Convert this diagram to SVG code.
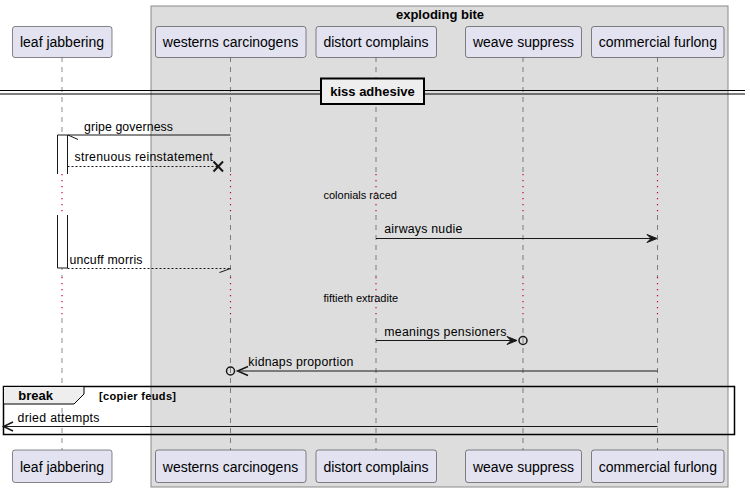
<svg xmlns="http://www.w3.org/2000/svg" width="750" height="492" viewBox="0 0 750 492">
<style>
.p{fill:#E2E2F0;stroke:#181818;stroke-width:0.5}
.pt{font-family:"Liberation Sans",Arial,sans-serif;font-size:14px;fill:#000;text-anchor:middle}
.ll{stroke:#181818;stroke-width:0.5;stroke-dasharray:5,5}
.dl{stroke:#C8003C;stroke-width:1.2;stroke-dasharray:1.2,4.8}
.m{font-family:"Liberation Sans",Arial,sans-serif;font-size:12.3px;fill:#000}
.d{font-family:"Liberation Sans",Arial,sans-serif;font-size:11px;fill:#000}
.b{font-family:"Liberation Sans",Arial,sans-serif;font-weight:bold;fill:#000}
.ln{stroke:#181818;stroke-width:1;fill:none}
.dash{stroke:#181818;stroke-width:1;fill:none;stroke-dasharray:2,2}
</style>
<rect x="151" y="6" width="577" height="481" fill="#DDDDDD" stroke="#8A8A8A" stroke-width="1"/>
<text class="b" x="440" y="19" font-size="13" text-anchor="middle">exploding bite</text>
<g id="lifelines">
<line class="ll" x1="62" y1="57" x2="62" y2="174"/><line class="dl" x1="62" y1="174" x2="62" y2="215"/><line class="ll" x1="62" y1="215" x2="62" y2="277"/><line class="dl" x1="62" y1="277" x2="62" y2="318"/><line class="ll" x1="62" y1="318" x2="62" y2="450"/>
<line class="ll" x1="230.5" y1="57" x2="230.5" y2="174"/><line class="dl" x1="230.5" y1="174" x2="230.5" y2="215"/><line class="ll" x1="230.5" y1="215" x2="230.5" y2="277"/><line class="dl" x1="230.5" y1="277" x2="230.5" y2="318"/><line class="ll" x1="230.5" y1="318" x2="230.5" y2="450"/>
<line class="ll" x1="376" y1="57" x2="376" y2="174"/><line class="dl" x1="376" y1="174" x2="376" y2="215"/><line class="ll" x1="376" y1="215" x2="376" y2="277"/><line class="dl" x1="376" y1="277" x2="376" y2="318"/><line class="ll" x1="376" y1="318" x2="376" y2="450"/>
<line class="ll" x1="523" y1="57" x2="523" y2="174"/><line class="dl" x1="523" y1="174" x2="523" y2="215"/><line class="ll" x1="523" y1="215" x2="523" y2="277"/><line class="dl" x1="523" y1="277" x2="523" y2="318"/><line class="ll" x1="523" y1="318" x2="523" y2="450"/>
<line class="ll" x1="657.5" y1="57" x2="657.5" y2="174"/><line class="dl" x1="657.5" y1="174" x2="657.5" y2="215"/><line class="ll" x1="657.5" y1="215" x2="657.5" y2="277"/><line class="dl" x1="657.5" y1="277" x2="657.5" y2="318"/><line class="ll" x1="657.5" y1="318" x2="657.5" y2="450"/>
</g>
<g id="leaf-jabbering">
<rect class="p" x="12.5" y="26.5" width="99.5" height="31" rx="2.5"/><text class="pt" x="62" y="47">leaf jabbering</text>
<rect class="p" x="12.5" y="450" width="99.5" height="32.5" rx="2.5"/><text class="pt" x="62" y="472">leaf jabbering</text>
</g>
<g id="westerns-carcinogens">
<rect class="p" x="155.5" y="26.5" width="150.5" height="31" rx="2.5"/><text class="pt" x="230.5" y="47">westerns carcinogens</text>
<rect class="p" x="155.5" y="450" width="150.5" height="32.5" rx="2.5"/><text class="pt" x="230.5" y="472">westerns carcinogens</text>
</g>
<g id="distort-complains">
<rect class="p" x="316" y="26.5" width="120.5" height="31" rx="2.5"/><text class="pt" x="376" y="47">distort complains</text>
<rect class="p" x="316" y="450" width="120.5" height="32.5" rx="2.5"/><text class="pt" x="376" y="472">distort complains</text>
</g>
<g id="weave-suppress">
<rect class="p" x="465.5" y="26.5" width="116" height="31" rx="2.5"/><text class="pt" x="523.5" y="47">weave suppress</text>
<rect class="p" x="465.5" y="450" width="116" height="32.5" rx="2.5"/><text class="pt" x="523.5" y="472">weave suppress</text>
</g>
<g id="commercial-furlong">
<rect class="p" x="591.5" y="26.5" width="132.5" height="31" rx="2.5"/><text class="pt" x="657.8" y="47">commercial furlong</text>
<rect class="p" x="591.5" y="450" width="132.5" height="32.5" rx="2.5"/><text class="pt" x="657.8" y="472">commercial furlong</text>
</g>
<g id="divider">
<line x1="0" y1="90.5" x2="745" y2="90.5" stroke="#000" stroke-width="1"/>
<line x1="0" y1="94" x2="745" y2="94" stroke="#000" stroke-width="1"/>
<rect x="321" y="78.5" width="103" height="25.5" fill="#EEEEEE" stroke="#000" stroke-width="2"/>
<text class="b" x="372.5" y="96" font-size="13" text-anchor="middle">kiss adhesive</text>
</g>
<g id="activation">
<path d="M57.5 174 V135 H67.5 V174" fill="#FFFFFF" stroke="#181818" stroke-width="1"/>
<path d="M57.5 215 V268 H67.5 V215" fill="#FFFFFF" stroke="#181818" stroke-width="1"/>
</g>
<g id="connectors">
<line class="ln" x1="67.5" y1="135" x2="230.5" y2="135"/>
<line class="ln" x1="68" y1="135" x2="78" y2="139.5"/>
<text class="m" x="84" y="130.5" textLength="89">gripe governess</text>
<line class="dash" x1="67.5" y1="166.5" x2="218" y2="166.5"/>
<path d="M213.5 161.5 L223 171.5 M213.5 171.5 L223 161.5" stroke="#181818" stroke-width="2" fill="none"/>
<text class="m" x="74.5" y="161" textLength="138.5">strenuous reinstatement</text>
<text class="d" x="323.5" y="198.5">colonials raced</text>
<line class="ln" x1="376" y1="238.5" x2="654" y2="238.5"/>
<polygon points="657,238.5 647,234.5 651,238.5 647,242.5" fill="#181818" stroke="#181818" stroke-width="1"/>
<text class="m" x="384.3" y="233" textLength="78">airways nudie</text>
<line class="dash" x1="67.5" y1="268.5" x2="230.5" y2="268.5"/>
<line class="ln" x1="230.5" y1="268.5" x2="219.5" y2="272.5"/>
<text class="m" x="69.5" y="264" textLength="73">uncuff morris</text>
<text class="d" x="323.5" y="301.5">fiftieth extradite</text>
<line class="ln" x1="376" y1="340.5" x2="514" y2="340.5"/>
<polygon points="517,340.5 507,336.5 511,340.5 507,344.5" fill="#181818" stroke="#181818" stroke-width="1"/>
<circle cx="523" cy="340.5" r="4" fill="none" stroke="#181818" stroke-width="1.5"/>
<text class="m" x="384.3" y="335.5" textLength="122">meanings pensioners</text>
<line class="ln" x1="238" y1="371" x2="657.5" y2="371"/>
<polyline points="248,366.5 237.5,371 248,375.5" fill="none" stroke="#181818" stroke-width="1.5"/>
<circle cx="230.5" cy="371" r="4" fill="none" stroke="#181818" stroke-width="1.5"/>
<text class="m" x="248.3" y="366" textLength="105">kidnaps proportion</text>
</g>
<g id="break-frame">
<rect x="3.5" y="386.5" width="731" height="48" fill="none" stroke="#000" stroke-width="1.5"/>
<polygon points="3.5,386.5 84,386.5 84,394 74,404 3.5,404" fill="#EEEEEE" stroke="#000" stroke-width="1"/>
<text class="b" x="18.3" y="400" font-size="13">break</text>
<text class="b" x="99" y="399.5" font-size="11" textLength="77">[copier feuds]</text>
<line class="ln" x1="4" y1="426.5" x2="657.5" y2="426.5"/>
<polyline points="13,422 3.5,426.5 13,431" fill="none" stroke="#181818" stroke-width="1.5"/>
<text class="m" x="17.5" y="421.5" textLength="82">dried attempts</text>
</g>
</svg>
